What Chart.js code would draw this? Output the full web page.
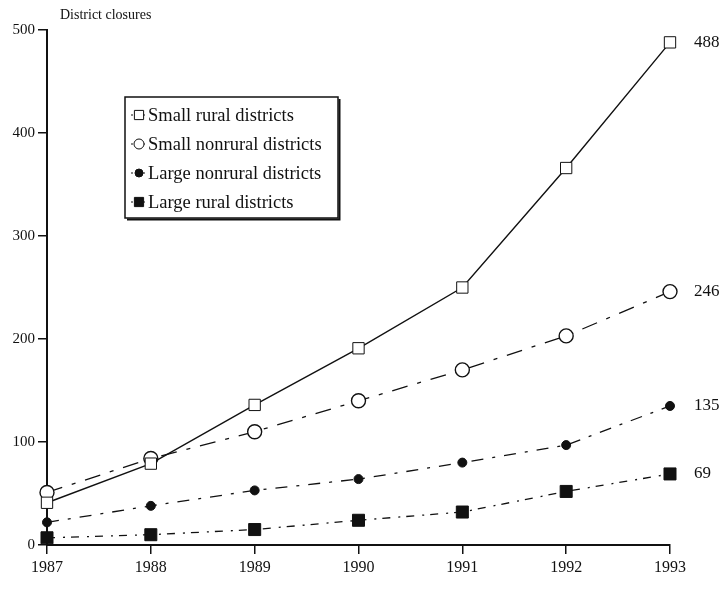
<!DOCTYPE html>
<html lang="en">
<head>
  <meta charset="UTF-8">
  <title>District closures</title>
  <script src="https://cdn.jsdelivr.net/npm/chart.js"></script>
  <style>
    body { margin: 0; background: #fff; }
    canvas { display: block; }
  </style>
</head>
<body>
  <canvas id="closuresChart" width="724" height="591"></canvas>

  <script>
    // values
    const years = ['1987', '1988', '1989', '1990', '1991', '1992', '1993'];
    const smallRural = [41, 79, 136, 191, 250, 366, 488];
    const smallNonrural = [51, 84, 110, 140, 170, 203, 246];
    const largeNonrural = [22, 38, 53, 64, 80, 97, 135];
    const largeRural = [7, 10, 15, 24, 32, 52, 69];
    const yTicks = [0, 100, 200, 300, 400, 500];

    const serif = '"Liberation Serif", "DejaVu Serif", serif';
    const ink = '#111';

    // title, legend box and end-of-line numbers
    const extras = {
      id: 'extras',
      afterDraw(chart) {
        const ctx = chart.ctx;
        ctx.save();
        ctx.fillStyle = ink;
        ctx.font = '14px ' + serif;
        ctx.textBaseline = 'middle';
        ctx.fillText('District closures', 60, 15);

        // labels at the right end of each line
        ctx.font = '17px ' + serif;
        chart.data.datasets.forEach((ds, i) => {
          const meta = chart.getDatasetMeta(i);
          const pt = meta.data[meta.data.length - 1];
          ctx.fillText(String(ds.data[ds.data.length - 1]), pt.x + 24, pt.y);
        });

        // legend box
        const bx = 125, by = 97, bw = 213, bh = 121;
        ctx.strokeStyle = ink;
        ctx.lineWidth = 1.5;
        ctx.fillStyle = '#fff';
        ctx.fillRect(bx, by, bw, bh);
        ctx.strokeRect(bx, by, bw, bh);
        ctx.lineWidth = 2;
        ctx.beginPath();
        ctx.moveTo(bx + 2, by + bh + 1.5);
        ctx.lineTo(bx + bw + 1.5, by + bh + 1.5);
        ctx.lineTo(bx + bw + 1.5, by + 2);
        ctx.stroke();

        ctx.font = '18.5px ' + serif;
        chart.data.datasets.forEach((ds, i) => {
          const y = by + 18 + i * 29;
          ctx.strokeStyle = ink;
          ctx.lineWidth = 1;
          ctx.setLineDash([2, 2]);
          ctx.beginPath();
          ctx.moveTo(bx + 6, y);
          ctx.lineTo(bx + 22, y);
          ctx.stroke();
          ctx.setLineDash([]);
          ctx.fillStyle = ds.pointBackgroundColor;
          ctx.strokeStyle = ink;
          Chart.helpers.drawPoint(ctx, {
            pointStyle: ds.pointStyle,
            radius: ds.legendRadius,
            borderWidth: ds.pointBorderWidth
          }, bx + 14, y);
          ctx.fillStyle = ink;
          ctx.fillText(ds.label, bx + 23, y + 1);
        });
        ctx.restore();
      }
    };

    const ctx = document.getElementById('closuresChart').getContext('2d');

    new Chart(ctx, {
      type: 'line',
      data: {
        labels: years,
        datasets: [
          {
            label: 'Small rural districts',
            data: smallRural,
            borderColor: ink,
            borderWidth: 1.4,
            pointStyle: 'rect',
            pointRadius: 8,
            legendRadius: 6.5,
            pointBorderWidth: 1,
            pointBackgroundColor: '#fff',
            pointBorderColor: ink
          },
          {
            label: 'Small nonrural districts',
            data: smallNonrural,
            borderColor: ink,
            borderWidth: 1.3,
            borderDash: [16, 10, 4, 10],
            pointStyle: 'circle',
            pointRadius: 7,
            legendRadius: 5,
            pointBorderWidth: 1.4,
            pointBackgroundColor: '#fff',
            pointBorderColor: ink
          },
          {
            label: 'Large nonrural districts',
            data: largeNonrural,
            borderColor: ink,
            borderWidth: 1.3,
            borderDash: [12, 9, 3, 9],
            pointStyle: 'circle',
            pointRadius: 4.5,
            legendRadius: 4,
            pointBorderWidth: 1,
            pointBackgroundColor: ink,
            pointBorderColor: ink
          },
          {
            label: 'Large rural districts',
            data: largeRural,
            borderColor: ink,
            borderWidth: 1.3,
            borderDash: [8, 8, 2, 6],
            pointStyle: 'rect',
            pointRadius: 8.5,
            legendRadius: 6.5,
            pointBorderWidth: 1,
            pointBackgroundColor: ink,
            pointBorderColor: ink
          }
        ]
      },
      options: {
        responsive: false,
        animation: false,
        layout: { padding: { top: 30, right: 54, left: 0, bottom: 0 } },
        plugins: {
          legend: { display: false },
          tooltip: { enabled: false }
        },
        scales: {
          x: {
            afterFit: s => { s.height = 46; },
            grid: { drawOnChartArea: false, tickLength: 9, color: ink, lineWidth: 1.5 },
            border: { color: ink, width: 2 },
            ticks: { color: ink, font: { family: serif, size: 16 }, padding: 4, maxRotation: 0 }
          },
          y: {
            min: 0,
            max: 500,
            afterFit: s => { s.width = 47; },
            afterBuildTicks: s => { s.ticks = yTicks.map(v => ({ value: v })); },
            grid: { drawOnChartArea: false, tickLength: 9, color: ink, lineWidth: 1.5 },
            border: { color: ink, width: 2 },
            ticks: { color: ink, font: { family: serif, size: 15 }, padding: 3 }
          }
        }
      },
      plugins: [extras]
    });
  </script>
</body>
</html>
